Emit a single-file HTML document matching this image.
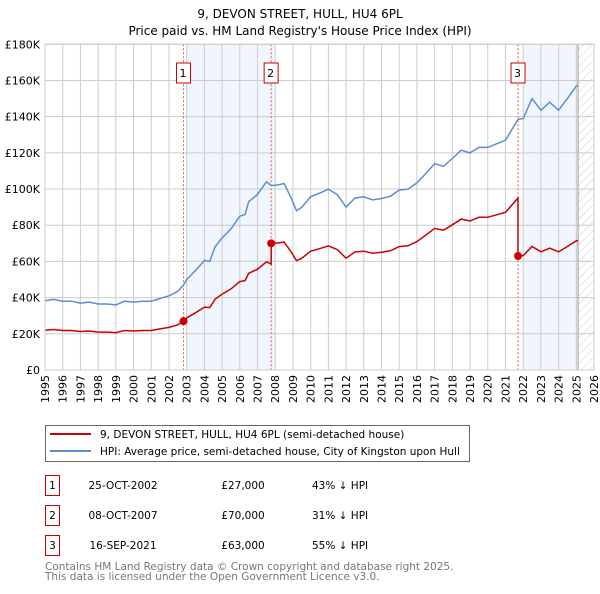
<!DOCTYPE html>
<html><head><meta charset="utf-8">
<style>
body{margin:0;background:#fff;width:600px;height:590px;overflow:hidden;font-family:"DejaVu Sans","Liberation Sans",sans-serif;}
svg text{font-family:"DejaVu Sans","Liberation Sans",sans-serif;}
</style></head>
<body>
<svg id="chart" width="600" height="590" xmlns="http://www.w3.org/2000/svg">
<text x="300" y="18" text-anchor="middle" font-size="12">9, DEVON STREET, HULL, HU4 6PL</text>
<text x="300" y="35" text-anchor="middle" font-size="12">Price paid vs. HM Land Registry's House Price Index (HPI)</text>
<defs><pattern id="hatch" width="6" height="6" patternUnits="userSpaceOnUse" patternTransform="rotate(45)"><line x1="0" y1="0" x2="0" y2="6" stroke="#ccc" stroke-width="1"/></pattern></defs>
<g id="plot"></g>
<g>
<rect x="45.5" y="425.5" width="424" height="36" fill="#fff" stroke="#666"/>
<line x1="50" y1="434" x2="91" y2="434" stroke="#cc0000" stroke-width="2"/>
<text x="100" y="438" font-size="10.5">9, DEVON STREET, HULL, HU4 6PL (semi-detached house)</text>
<line x1="50" y1="451" x2="91" y2="451" stroke="#5b8dd0" stroke-width="2"/>
<text x="100" y="455" font-size="10.5">HPI: Average price, semi-detached house, City of Kingston upon Hull</text>
</g>
<g id="table"></g>
<text x="45" y="570" font-size="10.5" fill="#777">Contains HM Land Registry data © Crown copyright and database right 2025.</text>
<text x="45" y="580" font-size="10.5" fill="#777">This data is licensed under the Open Government Licence v3.0.</text>
</svg>
<script>
const hpiYears=[1995,1995.5,1996,1996.5,1997,1997.5,1998,1998.5,1999,1999.5,2000,2000.5,2001,2001.5,2002,2002.5,2002.82,2003,2003.5,2004,2004.3,2004.6,2005,2005.5,2006,2006.3,2006.5,2007,2007.5,2007.77,2008,2008.5,2008.9,2009.2,2009.5,2010,2010.5,2011,2011.5,2012,2012.5,2013,2013.5,2014,2014.5,2015,2015.5,2016,2016.5,2017,2017.5,2018,2018.5,2019,2019.5,2020,2020.5,2021,2021.71,2022,2022.5,2023,2023.5,2024,2024.5,2025,2025.1];
const hpiValues=[38.3,39,38,38,37,37.5,36.5,36.5,36,38,37.5,38,38,39.5,41,43.5,47,50,55,60.5,60,68,73,78,85,86,93,97,104,102,102,103,95,88,90,95.7,97.7,99.9,97,90,95,95.7,94,94.8,96,99.4,100,103.4,108.6,114,112.6,116.9,121.5,120,123,123,125,127,138.5,139,150,143.6,148,143.6,150,156.9,157];
const saleYears=[2002.82,2007.77,2021.71];
const salePrices=[27,70,63];
const saleDates=["25-OCT-2002","08-OCT-2007","16-SEP-2021"];
const salePriceLabels=["£27,000","£70,000","£63,000"];
const salePct=["43% ↓ HPI","31% ↓ HPI","55% ↓ HPI"];
const yTicks=[0,20,40,60,80,100,120,140,160,180];
const yTickLabels=["£0","£20K","£40K","£60K","£80K","£100K","£120K","£140K","£160K","£180K"];
const xTicks=[1995,1996,1997,1998,1999,2000,2001,2002,2003,2004,2005,2006,2007,2008,2009,2010,2011,2012,2013,2014,2015,2016,2017,2018,2019,2020,2021,2022,2023,2024,2025,2026];

const L=45,R=594,T=44.3,B=370,X0=1995,X1=2026,YMAX=180;
const sx=v=>L+(v-X0)/(X1-X0)*(R-L);
const sy=v=>B-v/YMAX*(B-T);
const NS="http://www.w3.org/2000/svg";
const g=document.getElementById('plot');
function mk(tag,attrs,parent){const e=document.createElementNS(NS,tag);for(const k in attrs)e.setAttribute(k,attrs[k]);(parent||g).appendChild(e);return e;}

let e;
e=mk('rect',{x:sx(2003),y:T,width:sx(2008)-sx(2003),height:B-T,fill:'#eef3fc',opacity:0.8});


e=mk('rect',{x:sx(2022),y:T,width:sx(2025.1)-sx(2022),height:B-T,fill:'#eef3fc',opacity:0.8});


e=mk('rect',{x:sx(2025.1),y:T,width:R-sx(2025.1),height:B-T,fill:'url(#hatch)'});



xTicks.forEach((t,i)=>{
  const x=sx(t);
  e=mk('line',{x1:x,y1:T,x2:x,y2:B,stroke:'#ccc','stroke-width':1});
  
  
  e=mk('text',{x:0,y:0,'font-size':11,'text-anchor':'end',transform:`translate(${x+4},${B+5}) rotate(-90)`});
  e.textContent=t;
  
  
});
yTicks.forEach((t,i)=>{
  const y=sy(t);
  e=mk('line',{x1:L,y1:y,x2:R,y2:y,stroke:'#ccc','stroke-width':1});
  
  
  e=mk('text',{x:L-5,y:y+4,'font-size':11,'text-anchor':'end'});
  e.textContent=yTickLabels[i];
  
  
});
e=mk('line',{x1:sx(2025.1),y1:T,x2:sx(2025.1),y2:B,stroke:'#999','stroke-width':1});



saleYears.forEach((s,i)=>{
  const x=sx(s);
  e=mk('line',{x1:x,y1:T,x2:x,y2:B,stroke:'#e06060','stroke-width':1,'stroke-dasharray':'2,2'});
  
  
  e=mk('rect',{x:x-7,y:63,width:14,height:20,fill:'#fff',stroke:'#cc0000'});
  
  
  e=mk('text',{x:x-0.5,y:77,'font-size':11,'text-anchor':'middle'});
  e.textContent=i+1;
  
  
});

function hpiAt(y){for(let i=0;i<hpiYears.length-1;i++){if(y>=hpiYears[i]&&y<=hpiYears[i+1]){const f=(y-hpiYears[i])/(hpiYears[i+1]-hpiYears[i]);return hpiValues[i]+f*(hpiValues[i+1]-hpiValues[i]);}}return hpiValues[hpiValues.length-1];}
e=mk('path',{d:hpiYears.map((y,i)=>(i?'L':'M')+sx(y).toFixed(1)+','+sy(hpiValues[i]).toFixed(1)).join(''),fill:'none',stroke:'#5b8dd0','stroke-width':1.5});



let d='';
hpiYears.forEach((y,i)=>{
  let k=-1;for(let j=0;j<saleYears.length;j++)if(saleYears[j]<=y)k=j;
  let ratio=k<0?salePrices[0]/hpiAt(saleYears[0]):salePrices[k]/hpiAt(saleYears[k]);
  if(k>=0&&i>0&&hpiYears[i-1]<saleYears[k]&&y>=saleYears[k]){
    const pr=k===0?ratio:salePrices[k-1]/hpiAt(saleYears[k-1]);
    d+='L'+sx(saleYears[k]).toFixed(1)+','+sy(pr*hpiAt(saleYears[k])).toFixed(1);
    d+='L'+sx(saleYears[k]).toFixed(1)+','+sy(salePrices[k]).toFixed(1);
  }
  d+=(i?'L':'M')+sx(y).toFixed(1)+','+sy(ratio*hpiValues[i]).toFixed(1);
});
e=mk('path',{d:d,fill:'none',stroke:'#cc0000','stroke-width':1.5});


saleYears.forEach((s,i)=>{
  e=mk('circle',{cx:sx(s),cy:sy(salePrices[i]),r:4,fill:'#cc0000'});
  
  
});
e=mk('rect',{x:L,y:T,width:R-L,height:B-T,fill:'none',stroke:'#ccc'});



const tb=document.getElementById('table');
saleDates.forEach((dt,i)=>{
  const y=475+i*30;
  e=mk('rect',{x:45.5,y:y+0.5,width:14,height:20,fill:'#fff',stroke:'#cc0000'},tb);
  
  
  const cells=[[52.5,String(i+1),'middle'],[123,dt,'middle'],[243,salePriceLabels[i],'middle'],[312,salePct[i],'start']];
  cells.forEach((c,j)=>{
    e=mk('text',{x:c[0],y:y+14,'font-size':10.5,'text-anchor':c[2]},tb);
    e.textContent=c[1];
    
    
  });
});
</script>
</body></html>
